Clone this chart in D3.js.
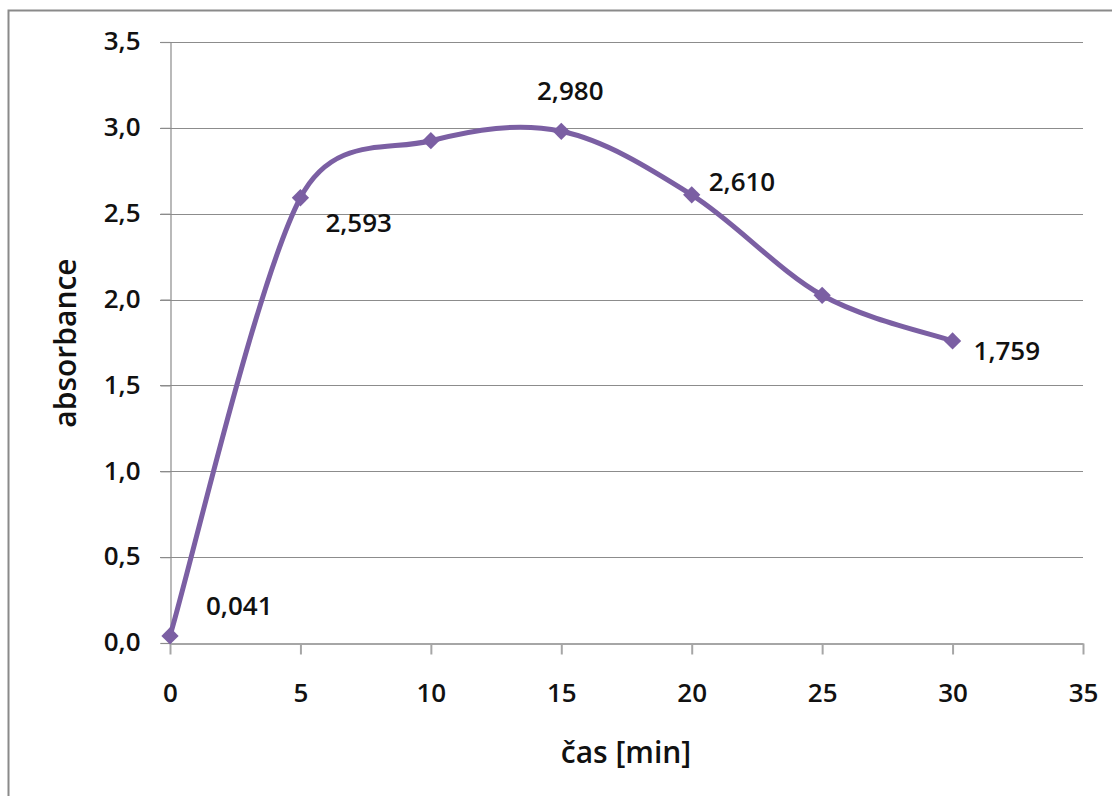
<!DOCTYPE html>
<html>
<head>
<meta charset="utf-8">
<script src="https://cdn.jsdelivr.net/npm/d3@7"></script>
<style>
  body { margin: 0; background: #fff; }
  svg text { font-family: "Open Sans", "DejaVu Sans", sans-serif; fill: #111; font-weight: 600; }
</style>
</head>
<body>
<svg id="chart"></svg>
<script>
// measured values
var times = [0, 5, 10, 15, 20, 25, 30];
var absorbance = [0.041, 2.593, 2.925, 2.980, 2.610, 2.025, 1.759];
var labelTexts = ["0,041", "2,593", "", "2,980", "2,610", "", "1,759"];
var xTicks = [0, 5, 10, 15, 20, 25, 30, 35];
var yTicks = [0, 0.5, 1, 1.5, 2, 2.5, 3, 3.5];

// where each data label sits relative to its point
var labelOffsets = [[36, -30], [25, 25], [0, 0], [9, -40], [17, -13], [0, 0], [21, 10]];

var width = 1112, height = 796;
var svg = d3.select("#chart")
    .attr("width", width)
    .attr("height", height);

// outer frame
svg.append("rect")
    .attr("x", 8.5)
    .attr("y", 10.5)
    .attr("width", width + 10)
    .attr("height", height + 10)
    .attr("fill", "none")
    .attr("stroke", "#8a8a8a")
    .attr("stroke-width", 2);

var x = d3.scaleLinear().domain([0, 35]).range([170, 1083]);
var y = d3.scaleLinear().domain([0, 3.5]).range([643, 42]);

var fmt = d => d3.format(".1f")(d).replace(".", ",");

// horizontal gridlines
svg.append("g")
  .selectAll("line")
  .data(yTicks.filter(d => d > 0))
  .enter().append("line")
    .attr("x1", 160)
    .attr("x2", x(35))
    .attr("y1", d => Math.round(y(d)) + 0.5)
    .attr("y2", d => Math.round(y(d)) + 0.5)
    .attr("stroke", "#8c8c8c")
    .attr("stroke-width", 1.2);

// y axis
var yAxis = svg.append("g")
    .attr("transform", "translate(170.5,0)")
    .call(d3.axisLeft(y).tickValues(yTicks).tickSize(10).tickPadding(20).tickFormat(fmt));
yAxis.select(".domain").attr("stroke", "#8c8c8c").attr("stroke-width", 1.2);
yAxis.selectAll(".tick line").attr("stroke", "#8c8c8c").attr("stroke-width", 1.2);
yAxis.selectAll("text").attr("font-size", 26).attr("font-family", null).attr("dy", "0.3em");

// x axis
var xAxis = svg.append("g")
    .attr("transform", "translate(0,643.5)")
    .call(d3.axisBottom(x).tickValues(xTicks).tickSize(11).tickPadding(29).tickSizeOuter(0));
xAxis.select(".domain").attr("stroke", "#a6a6a6").attr("stroke-width", 2);
xAxis.selectAll(".tick line").attr("stroke", "#a6a6a6").attr("stroke-width", 2);
xAxis.selectAll("text").attr("font-size", 26).attr("font-family", null);

// axis titles
svg.append("text")
    .attr("transform", "translate(76,343) rotate(-90)")
    .attr("text-anchor", "middle")
    .attr("font-size", 30)
    .text("absorbance");

svg.append("text")
    .attr("x", 626)
    .attr("y", 763)
    .attr("text-anchor", "middle")
    .attr("font-size", 30)
    .text("čas [min]");

var points = times.map((t, i) => ({ t: t, a: absorbance[i], label: labelTexts[i], off: labelOffsets[i] }));

// spreadsheet-style smoothing: bezier with 1/6 tangents, capped at half the segment length
function smoothPath(pts) {
  var p = d3.path();
  var dist = (a, b) => Math.hypot(b[0] - a[0], b[1] - a[1]);
  p.moveTo(pts[0][0], pts[0][1]);
  for (var i = 0; i < pts.length - 1; i++) {
    var p0 = pts[Math.max(i - 1, 0)], p1 = pts[i], p2 = pts[i + 1], p3 = pts[Math.min(i + 2, pts.length - 1)];
    var d12 = dist(p1, p2), d02 = dist(p0, p2), d13 = dist(p1, p3);
    var f0 = d02 / 6 < d12 / 2 ? 1 / 6 : d12 / 2 / d02;
    var f1 = d13 / 6 < d12 / 2 ? 1 / 6 : d12 / 2 / d13;
    p.bezierCurveTo(
      p1[0] + (p2[0] - p0[0]) * f0, p1[1] + (p2[1] - p0[1]) * f0,
      p2[0] - (p3[0] - p1[0]) * f1, p2[1] - (p3[1] - p1[1]) * f1,
      p2[0], p2[1]);
  }
  return p.toString();
}

svg.append("path")
    .attr("d", smoothPath(points.map(d => [x(d.t), y(d.a)])))
    .attr("fill", "none")
    .attr("stroke", "#7b5fa3")
    .attr("stroke-width", 5)
    .attr("stroke-linejoin", "round");

// diamond markers
svg.append("g")
  .selectAll("path")
  .data(points)
  .enter().append("path")
    .attr("d", d3.symbol().type(d3.symbolDiamond2).size(190))
    .attr("transform", d => "translate(" + x(d.t) + "," + y(d.a) + ")")
    .attr("fill", "#7b5fa3");

// data labels
svg.append("g")
  .selectAll("text")
  .data(points.filter(d => d.label))
  .enter().append("text")
    .attr("x", d => x(d.t) + d.off[0])
    .attr("y", d => y(d.a) + d.off[1])
    .attr("dy", "0.35em")
    .attr("text-anchor", d => d.t === 15 ? "middle" : "start")
    .attr("font-size", 26)
    .text(d => d.label);
</script>
</body>
</html>
